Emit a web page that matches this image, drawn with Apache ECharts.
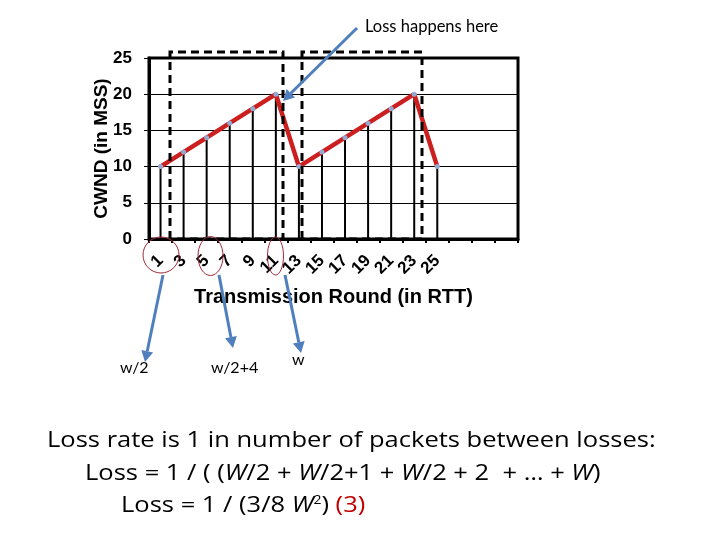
<!DOCTYPE html>
<html>
<head>
<meta charset="utf-8">
<script src="https://cdn.jsdelivr.net/npm/echarts@6/dist/echarts.min.js"></script>
<style>
  html, body { margin: 0; padding: 0; background: #fff; }
  #chart { width: 720px; height: 540px; }
</style>
</head>
<body>
<div id="chart"></div>
<script>
// transmission rounds (tick labels) and congestion window per round
var rounds = ['1', '3', '5', '7', '9', '11', '13', '15', '17', '19', '21', '23', '25'];
var emptySlots = ['', '', ''];
var cwnd = [10, 12, 14, 16, 18, 20, 10, 12, 14, 16, 18, 20, 10];
var yTicks = [0, 5, 10, 15, 20, 25];

var categories = rounds.concat(emptySlots);
var myChart = echarts.init(document.getElementById('chart'));

var blue = '#4f7fbc';
var darkRed = '#9e2a3a';

// arrow helper: line + triangle head at (x2, y2)
function arrow(x1, y1, x2, y2) {
  var ang = Math.atan2(y2 - y1, x2 - x1);
  var len = 11, wid = 6;
  var bx = x2 - len * Math.cos(ang), by = y2 - len * Math.sin(ang);
  var px = -Math.sin(ang) * wid, py = Math.cos(ang) * wid;
  return [
    { type: 'line', shape: { x1: x1, y1: y1, x2: bx, y2: by }, style: { stroke: blue, lineWidth: 3 }, z: 100 },
    { type: 'polygon', shape: { points: [[x2, y2], [bx + px, by + py], [bx - px, by - py]] }, style: { fill: blue }, z: 100 }
  ];
}

function dashedBox(x1, x2, top, bottom) {
  return {
    type: 'polyline',
    shape: { points: [[x1, bottom], [x1, top], [x2, top], [x2, bottom], [x1, bottom]] },
    style: { stroke: '#000', lineWidth: 3, lineDash: [8, 5], fill: null },
    z: 90
  };
}

function ellipse(cx, cy, rx, ry) {
  return {
    type: 'ellipse',
    shape: { cx: cx, cy: cy, rx: rx, ry: ry },
    style: { stroke: darkRed, lineWidth: 1, fill: null },
    z: 95
  };
}

var textFont = 'Lato, "Open Sans", sans-serif';
var bodyFont = '"Open Sans", Lato, sans-serif';
var boldFont = '"Liberation Sans", Arial, sans-serif';
var bodyStretch = 1.16;

var graphics = [
  dashedBox(170, 283, 52, 239),
  dashedBox(302, 422, 52, 239),
  ellipse(161, 255, 18, 18),
  ellipse(210.5, 256, 12.5, 19.5),
  ellipse(275.5, 256, 8, 19),
  {
    type: 'text', left: 365, top: 18, z: 100,
    style: { text: 'Loss happens here', font: '16.5px ' + textFont, fill: '#000' }
  },
  { type: 'text', left: 120, top: 360, z: 100, style: { text: 'w/2', font: '16px ' + textFont, fill: '#000' } },
  { type: 'text', left: 211, top: 360, z: 100, style: { text: 'w/2+4', font: '16px ' + textFont, fill: '#000' } },
  { type: 'text', left: 292, top: 352, z: 100, style: { text: 'w', font: '16px ' + textFont, fill: '#000' } },
  {
    type: 'text', x: 47, y: 430, z: 100, scaleX: bodyStretch,
    style: { text: 'Loss rate is 1 in number of packets between losses:', font: '22px ' + bodyFont, fill: '#000' }
  },
  {
    type: 'text', x: 85, y: 463, z: 100, scaleX: bodyStretch,
    style: {
      text: 'Loss = 1 / ( ({i|W}/2 + {i|W}/2+1 + {i|W}/2 + 2  + … + {i|W})',
      font: '22px ' + bodyFont, fill: '#000',
      rich: { i: { fontStyle: 'italic', fontSize: 22, fontFamily: bodyFont } }
    }
  },
  {
    type: 'text', x: 121, y: 495, z: 100, scaleX: bodyStretch,
    style: {
      text: 'Loss = 1 / (3/8 {i|W}{sup|2}) {r|(3)}',
      font: '22px ' + bodyFont, fill: '#000',
      rich: {
        i: { fontStyle: 'italic', fontSize: 22, fontFamily: bodyFont },
        sup: { fontSize: 12, fontFamily: bodyFont, verticalAlign: 'top', padding: [0, 0, 10, 0] },
        r: { fill: '#c00000', color: '#c00000', fontSize: 22, fontFamily: bodyFont }
      }
    }
  }
].concat(arrow(357, 28, 283, 101))
 .concat(arrow(163, 275, 145, 362))
 .concat(arrow(219, 275, 233, 348))
 .concat(arrow(285, 275, 301, 353));

var option = {
  animation: false,
  backgroundColor: '#fff',
  grid: {
    left: 149, right: 202, top: 58, bottom: 301,
    show: true, borderColor: '#000', borderWidth: 3, backgroundColor: 'transparent'
  },
  xAxis: {
    type: 'category',
    data: categories,
    boundaryGap: true,
    name: 'Transmission Round (in RTT)',
    nameLocation: 'middle',
    nameGap: 48,
    nameMoveOverlap: false,
    nameTextStyle: { fontFamily: boldFont, fontWeight: 'bold', fontSize: 20, color: '#000' },
    axisLine: { lineStyle: { color: '#000', width: 3 } },
    axisTick: { show: true, length: 4, lineStyle: { color: '#000', width: 2 } },
    axisLabel: {
      interval: 0, rotate: 45, margin: 19,
      fontFamily: boldFont, fontWeight: 'bold', fontSize: 17, color: '#000'
    },
    splitLine: { show: false }
  },
  yAxis: {
    type: 'value',
    min: yTicks[0],
    max: yTicks[yTicks.length - 1],
    interval: 5,
    name: 'CWND (in MSS)',
    nameLocation: 'middle',
    nameGap: 38,
    nameMoveOverlap: false,
    nameTextStyle: { fontFamily: boldFont, fontWeight: 'bold', fontSize: 19, color: '#000' },
    axisLine: { show: true, lineStyle: { color: '#000', width: 3 } },
    axisTick: { show: true, length: 5, lineStyle: { color: '#000', width: 1 } },
    axisLabel: { margin: 17, fontFamily: boldFont, fontWeight: 'bold', fontSize: 17, color: '#000' },
    splitLine: { show: true, lineStyle: { color: '#000', width: 1 } }
  },
  series: [
    {
      name: 'drop',
      type: 'bar',
      data: cwnd,
      barWidth: 2,
      itemStyle: { color: '#000' },
      z: 2
    },
    {
      name: 'CWND',
      type: 'line',
      data: cwnd,
      symbol: 'circle',
      symbolSize: 5,
      lineStyle: { color: '#cc2020', width: 4.5 },
      itemStyle: { color: '#93abd3' },
      z: 3
    }
  ],
  graphic: graphics
};

myChart.setOption(option);
</script>
</body>
</html>
